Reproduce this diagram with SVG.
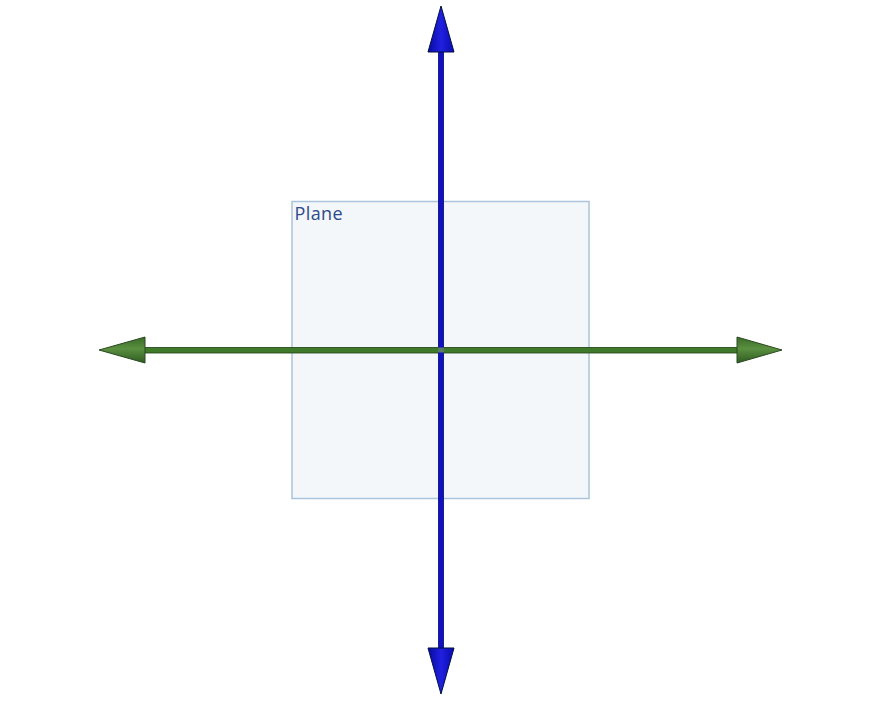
<svg xmlns="http://www.w3.org/2000/svg" width="884" height="704" viewBox="0 0 884 704">
<style>
.plane{fill:#f3f7fa;stroke:#aac4dc;stroke-width:1.5}
.lbl{font-family:"Open Sans","DejaVu Sans",sans-serif;font-size:18px;fill:#2d4a8a;letter-spacing:0.4px}
.vshaft{fill:#1010c8;stroke:#000a60;stroke-width:0.8}
.hshaft{fill:#3f7a2a;stroke:#1f3f14;stroke-width:0.8}
.vcone{fill:url(#gv);stroke:#001040;stroke-width:1}
.hcone{fill:url(#gh);stroke:#2a4a20;stroke-width:1}
</style>
<defs>
<linearGradient id="gv" x1="0" y1="0" x2="1" y2="0">
<stop offset="0" stop-color="#0a0aa0"/>
<stop offset="0.5" stop-color="#2020e0"/>
<stop offset="1" stop-color="#0a0ab0"/>
</linearGradient>
<linearGradient id="gh" x1="0" y1="0" x2="0" y2="1">
<stop offset="0" stop-color="#3a6a28"/>
<stop offset="0.45" stop-color="#5a9040"/>
<stop offset="1" stop-color="#2f5a20"/>
</linearGradient>
</defs>
<g id="plane">
<rect class="plane" x="292" y="201.5" width="297" height="297"/>
<text class="lbl" x="294.5" y="220">Plane</text>
</g>
<g id="connectors">
<rect class="hshaft" x="140" y="347.5" width="602" height="5.5"/>
<rect class="vshaft" x="438.5" y="48" width="5" height="604"/>
<rect x="438" y="347.5" width="6" height="5" fill="#5a7a6a"/>
<polygon class="vcone" points="441,6 428,52 454,52"/>
<polygon class="vcone" points="441,694 428,648 454,648"/>
<polygon class="hcone" points="99,350 145,337 145,363"/>
<polygon class="hcone" points="782,350 737,337 737,363"/>
</g>
</svg>
